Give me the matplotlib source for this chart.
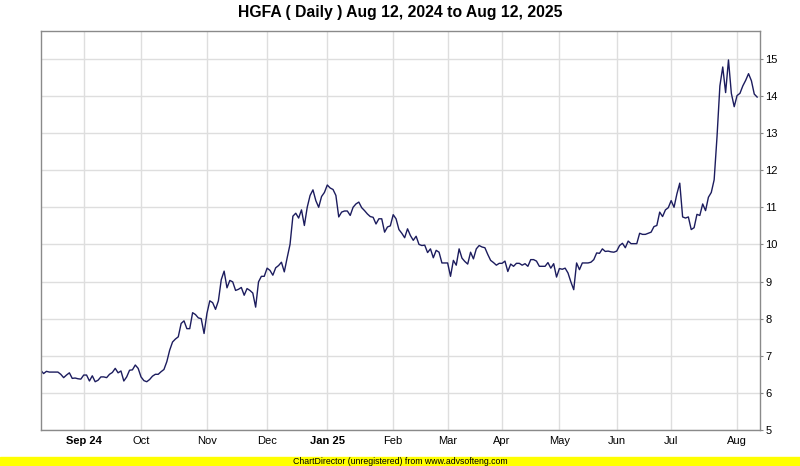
import numpy as np
import matplotlib
matplotlib.use("Agg")
from matplotlib import pyplot as plt
from matplotlib.patches import Rectangle

# HGFA daily close, Aug 12 2024 -> Aug 12 2025
close = [
    6.61, 6.52, 6.58, 6.56, 6.56, 6.56, 6.56, 6.50, 6.41, 6.48,
    6.54, 6.39, 6.40, 6.38, 6.37, 6.48, 6.48, 6.32, 6.46, 6.30,
    6.34, 6.43, 6.43, 6.41, 6.50, 6.55, 6.66, 6.54, 6.59, 6.32,
    6.43, 6.61, 6.62, 6.75, 6.66, 6.43, 6.33, 6.30, 6.36, 6.45,
    6.50, 6.50, 6.57, 6.63, 6.84, 7.15, 7.37, 7.45,
    7.51, 7.87, 7.94, 7.73, 7.73, 8.16, 8.11, 8.02, 8.00, 7.60,
    8.14, 8.48, 8.43, 8.25, 8.48, 9.05, 9.28, 8.83, 9.03, 8.99,
    8.76, 8.79, 8.84, 8.63, 8.81, 8.76, 8.69, 8.31, 8.99, 9.14,
    9.14, 9.36, 9.30, 9.17, 9.37, 9.43, 9.52, 9.26, 9.64, 10.00,
    10.76, 10.84, 10.71, 10.93, 10.51, 11.00, 11.32,
    11.47, 11.18, 11.00, 11.29, 11.40, 11.60, 11.52, 11.48, 11.32, 10.74,
    10.87, 10.90, 10.90, 10.78, 11.00, 11.09, 11.14, 10.99, 10.91, 10.82,
    10.75, 10.73, 10.55, 10.69, 10.69, 10.33, 10.47, 10.50, 10.80, 10.69,
    10.40, 10.30, 10.18, 10.42, 10.24, 10.11, 10.22, 10.00, 9.97, 9.98,
    9.78, 9.88, 9.64, 9.84,
    9.79, 9.50, 9.50, 9.50, 9.14, 9.57, 9.44, 9.88, 9.63, 9.54,
    9.47, 9.79, 9.61, 9.88, 9.97, 9.93, 9.91, 9.73, 9.57, 9.51,
    9.44, 9.49, 9.49, 9.55, 9.27, 9.47, 9.41, 9.49, 9.49, 9.44,
    9.48, 9.41, 9.59, 9.59, 9.55, 9.41, 9.41, 9.41, 9.51, 9.36,
    9.48, 9.12, 9.35, 9.33, 9.36, 9.23, 8.99, 8.78, 9.50, 9.32,
    9.50, 9.50,
    9.50, 9.52, 9.59, 9.77, 9.76, 9.88, 9.81, 9.82, 9.80, 9.79,
    9.82, 9.97, 10.03, 9.91, 10.09, 10.02, 10.02, 10.02, 10.30, 10.27,
    10.27, 10.30, 10.33, 10.48, 10.51, 10.87, 10.75, 10.93, 10.99, 11.18,
    11.00, 11.36, 11.65, 10.74, 10.71, 10.74, 10.40, 10.45, 10.81, 10.78,
    11.09, 10.91, 11.27, 11.40, 11.74, 12.90, 14.27, 14.78, 14.09, 14.97,
    14.07, 13.71, 14.01, 14.07, 14.27, 14.42, 14.60, 14.41, 14.05, 13.97,
]

# first trading day of each month (index into close)
month_idx = [15, 35, 58, 79, 100, 123, 142, 161, 181, 201, 220, 243]
month_lbl = ["Sep 24", "Oct", "Nov", "Dec", "Jan 25", "Feb", "Mar", "Apr",
             "May", "Jun", "Jul", "Aug"]
year_lbl = ["Sep 24", "Jan 25"]
price_ticks = [5, 6, 7, 8, 9, 10, 11, 12, 13, 14, 15]

plt.rcParams['font.family'] = ['Liberation Sans', 'DejaVu Sans']

fig = plt.figure(figsize=(8, 4.66), dpi=100)
ax = fig.add_axes([0.0509, 0.0773, 0.8991, 0.857])

x = np.arange(len(close))
ax.plot(x, close, color='#1c1c5e', lw=1.0)

ax.set_xlim(0, 251)
ax.set_ylim(5, 15.76)
ax.set_xticks(month_idx)
ax.set_xticklabels(month_lbl)
for t in ax.get_xticklabels():
    if t.get_text() in year_lbl:
        t.set_fontweight('bold')
ax.set_yticks(price_ticks)
ax.yaxis.tick_right()

ax.grid(color='#dedede', lw=1.0)
ax.set_axisbelow(True)
ax.tick_params(axis='x', length=0, pad=4, labelsize=8)
ax.tick_params(axis='y', length=2.5, width=0.8, color='#888888', labelsize=8, pad=1.5)
for s in ax.spines.values():
    s.set_color('#8a8a8a')
    s.set_linewidth(1.0)

fig.text(0.5, 1 - 13 / 466, "HGFA ( Daily ) Aug 12, 2024 to Aug 12, 2025",
         ha='center', va='center', fontsize=11.3, fontweight='bold')

# ChartDirector footer strip
fig.patches.append(Rectangle((0, 0), 1, 9 / 466, transform=fig.transFigure,
                             color='#ffff00', zorder=0))
fig.text(0.5, 4.5 / 466, "ChartDirector (unregistered) from www.advsofteng.com",
         ha='center', va='center', fontsize=6.3)

fig.savefig('out.png', dpi=100)
